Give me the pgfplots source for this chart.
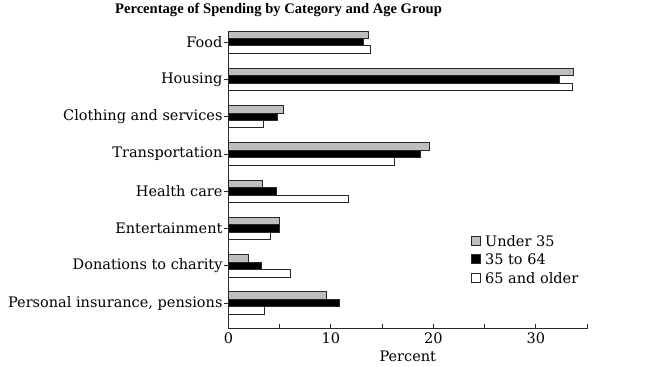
\documentclass[border=0pt]{standalone}
\usepackage{fontspec}
\setmainfont{DejaVu Serif}
\newfontfamily\titlefont{Liberation Serif}
\usepackage{pgfplots}
\pgfplotsset{compat=1.18}
\definecolor{bargray}{RGB}{190,190,190}
\definecolor{edge}{RGB}{40,40,40}
\newcommand{\lab}{\fontsize{14.5}{16}\selectfont}
\begin{document}
\begin{tikzpicture}[x=1pt,y=1pt]
\path (0,0) rectangle (650,-365);
\node[font=\titlefont\fontsize{14.6}{16}\selectfont\bfseries] at (278.5,-9) {Percentage of Spending by Category and Age Group};
\begin{axis}[
  at={(228.5pt,-327.7pt)}, anchor=south west,
  scale only axis, width=358.5pt, height=297.7pt,
  xmin=0, xmax=35, ymin=-0.69, ymax=7.3,
  axis lines=left, axis line style={-, line width=1pt, edge},
  xbar, bar width=0.2,
  xtick={0,10,20,30}, minor xtick={5,15,25,35},
  x tick style={line width=1pt, edge},
  xtick align=inside, ytick align=outside,
  major tick length=4.5pt, minor tick length=4.5pt,
  ytick={0,...,7},
  yticklabels={{Personal insurance, pensions},{Donations to charity},{Entertainment},{Health care},{Transportation},{Clothing and services},{Housing},{Food}},
  y tick style={line width=0.8pt, edge},
  ticklabel style={font=\lab},
  yticklabel style={xshift=2pt},
  /pgf/number format/assume math mode=true,
  xlabel={Percent}, xlabel style={font=\lab, yshift=-1pt},
  legend style={at={(0.674,0.325)}, anchor=north west, draw=none, fill=none, font=\lab, row sep=2pt, inner sep=1pt,
    nodes={inner xsep=4pt}},
  legend cell align=left,
  legend image code/.code={\draw[#1, line width=0.8pt] (0pt,-4pt) rectangle (9pt,5pt);},
  clip=false,
]
\addplot[bar shift=0.2, fill=bargray, draw=edge, line width=1pt] coordinates {
(13.7,7) (33.7,6) (5.4,5) (19.6,4) (3.3,3) (4.95,2) (2.0,1) (9.6,0)};
\addplot[bar shift=0, fill=black, draw=edge, line width=1pt] coordinates {
(13.2,7) (32.3,6) (4.8,5) (18.7,4) (4.7,3) (5.0,2) (3.2,1) (10.8,0)};
\addplot[bar shift=-0.2, fill=white, draw=edge, line width=1pt] coordinates {
(13.9,7) (33.6,6) (3.4,5) (16.2,4) (11.7,3) (4.1,2) (6.1,1) (3.5,0)};
\legend{Under 35, 35 to 64, 65 and older}
\end{axis}
\end{tikzpicture}
\end{document}
